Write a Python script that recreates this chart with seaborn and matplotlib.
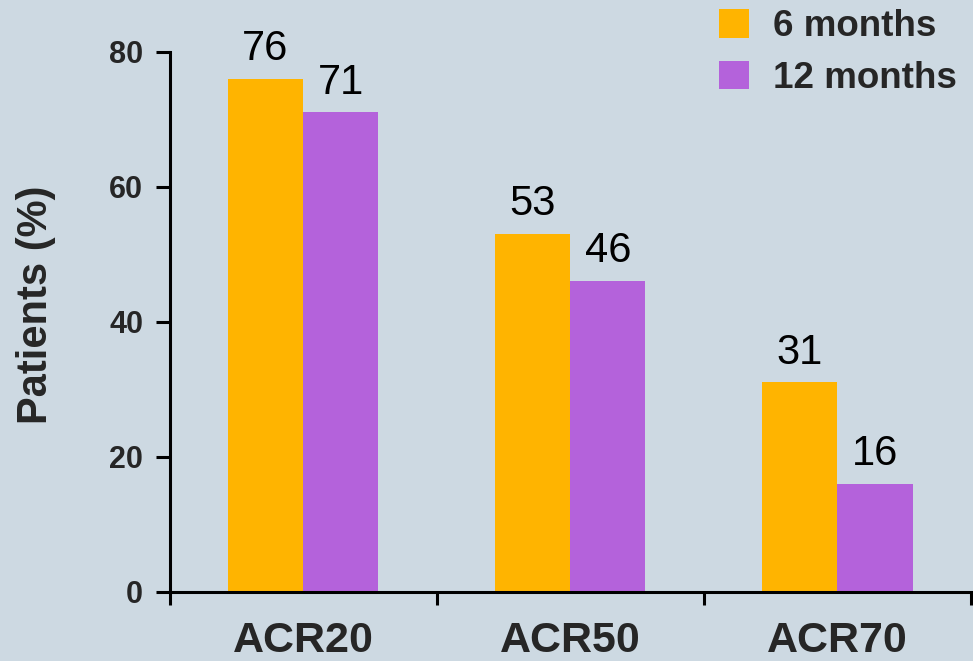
import matplotlib
matplotlib.use("Agg")
import matplotlib.pyplot as plt
import seaborn as sns
import pandas as pd

measures = ["ACR20", "ACR50", "ACR70"]
months6 = [76, 53, 31]
months12 = [71, 46, 16]
series_names = ["6 months", "12 months"]
colors = ["#FFB400", "#B462DB"]
yticks = [0, 20, 40, 60, 80]

df = pd.DataFrame({
    "measure": measures * 2,
    "value": months6 + months12,
    "period": [series_names[0]] * 3 + [series_names[1]] * 3,
})

sns.set_theme(style="ticks")
plt.rcParams["font.family"] = ["Liberation Sans", "DejaVu Sans"]
bg = "#CDD9E2"

fig = plt.figure(figsize=(9.73, 6.61), dpi=100, facecolor=bg)
ax = fig.add_axes([169.5 / 973, 1 - 591.5 / 661, (971 - 169.5) / 973, 540 / 661])
ax.set_facecolor(bg)

sns.barplot(data=df, x="measure", y="value", hue="period", order=measures,
            hue_order=series_names, palette=colors, saturation=1, width=0.563,
            linewidth=0, edgecolor="none", ax=ax)

for cont in ax.containers:
    ax.bar_label(cont, fmt="%d", padding=7, fontsize=30, color="black")

ax.set_ylim(0, 80)
ax.set_xlim(-0.5, 2.5)
ax.set_yticks(yticks)
ax.set_yticklabels([str(v) for v in yticks], fontsize=22, fontweight="bold")
ax.set_xticks([-0.5, 0.5, 1.5, 2.5])
ax.set_xticklabels([])
ax.set_xticks([0, 1, 2], minor=True)
ax.set_xticklabels(measures, minor=True, fontsize=31, fontweight="bold")
ax.tick_params(axis="x", which="minor", length=0, pad=21)
ax.tick_params(axis="x", which="major", length=9, width=2.2, direction="out", color="black")
ax.tick_params(axis="y", length=10, width=2.2, direction="out", pad=9, color="black")

for s in ["top", "right"]:
    ax.spines[s].set_visible(False)
for s in ["left", "bottom"]:
    ax.spines[s].set_linewidth(2.2)
    ax.spines[s].set_color("black")

ax.set_xlabel("")
ax.set_ylabel("Patients (%)", fontsize=30, fontweight="bold")
ax.yaxis.set_label_coords(-0.141, 0.531)

ax.legend(loc="upper left", bbox_to_anchor=(712 / 973, 1 - 2 / 661),
          bbox_transform=fig.transFigure, frameon=False,
          prop={"size": 26.5, "weight": "bold"}, handlelength=0.8,
          handleheight=0.8, handletextpad=0.65, labelspacing=0.45,
          borderaxespad=0, borderpad=0.2)

fig.savefig("out.png", dpi=100, facecolor=bg)
